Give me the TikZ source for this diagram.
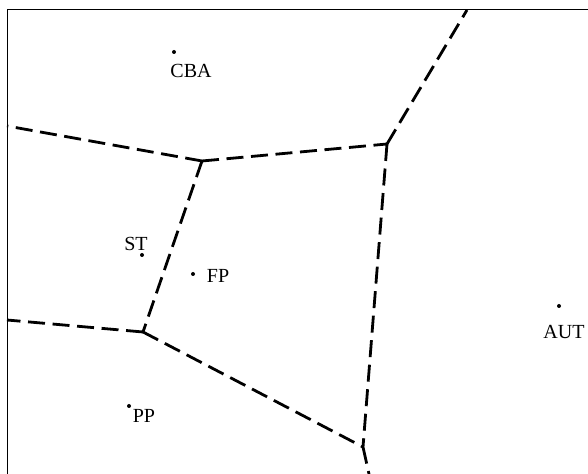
\documentclass[tikz,border=0pt]{standalone}
\usepackage{fontspec}
\setmainfont{Liberation Serif}
\usetikzlibrary{positioning}

\begin{document}
\begin{tikzpicture}[
    x=0.5pt, y=-0.5pt,
    font=\fontsize{10}{12}\selectfont,
    site/.style={circle, fill=black, inner sep=0pt, minimum size=2pt},
    lbl/.style={inner sep=0pt},
    border/.style={line width=0.5pt},
    cell/.style={line width=1.4pt, dash pattern=on 8.5pt off 3.8pt},
  ]
  \useasboundingbox (0,0) rectangle (588,474);

  % --- frame: only top and left sides fall inside the picture ---
  \coordinate (fbl) at (7,474);
  \coordinate (ftl) at (7,10);
  \coordinate (ftr) at (588,10);
  \draw[border] (fbl) -- (ftl) -- (ftr);

  % --- sites ---
  \node[site] (cba) at (174,52) {};
  \node[site] (st)  at (142,255) {};
  \node[site] (fp)  at (193,274) {};
  \node[site] (pp)  at (129,406) {};
  \node[site] (aut) at (559,306) {};

  \node[lbl] (cba-l) at (191,71)  {CBA};
  \node[lbl] (st-l)  at (136,244) {ST};
  \node[lbl] (fp-l)  at (218,276) {FP};
  \node[lbl] (pp-l)  at (144,416) {PP};
  \node[lbl] (aut-l) at (564,332) {AUT};

  % --- cell vertices and where edges leave the frame ---
  \coordinate (v1) at (202,161);
  \coordinate (v2) at (387,144);
  \coordinate (v3) at (143,332);
  \coordinate (v4) at (363,447);
  \coordinate (eL1) at (7,126);
  \coordinate (eL2) at (7,320);
  \coordinate (eT)  at (467,10);
  \coordinate (eB)  at (369,474);

  % --- cell boundaries ---
  \draw[cell] (v1) -- (eL1);
  \draw[cell] (v1) -- (v2);
  \draw[cell] (v1) -- (v3);
  \draw[cell] (v2) -- (eT);
  \draw[cell] (v2) -- (v4);
  \draw[cell] (v3) -- (eL2);
  \draw[cell] (v3) -- (v4);
  \draw[cell] (v4) -- (eB);
\end{tikzpicture}
\end{document}
